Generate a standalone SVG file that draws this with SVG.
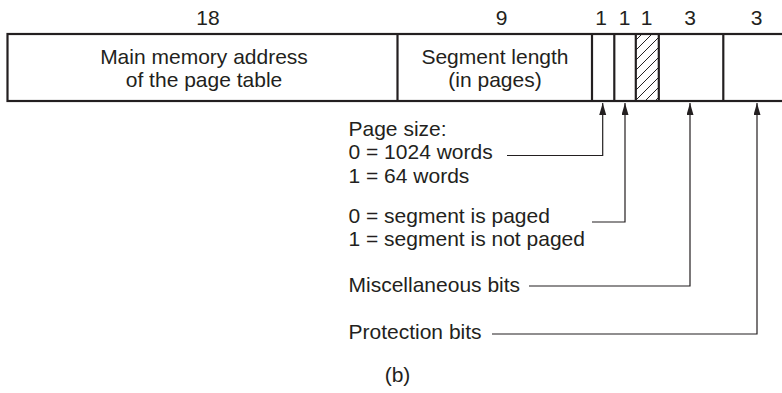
<svg xmlns="http://www.w3.org/2000/svg" width="782" height="393" viewBox="0 0 782 393">
  <defs>
    <style>
      text { font-family: "Liberation Sans", Arial, sans-serif; font-size: 21px; fill: #231f20; }
      .mid { text-anchor: middle; }
      .box { fill: #ffffff; stroke: #231f20; stroke-width: 2.2; }
      .div { stroke: #231f20; stroke-width: 2.2; fill: none; }
      .hatch { stroke: #231f20; stroke-width: 1; }
      .conn { fill: none; stroke: #231f20; stroke-width: 1.2; marker-end: url(#arrow); }
    </style>
    <marker id="arrow" markerUnits="userSpaceOnUse" markerWidth="12" markerHeight="8" refX="12" refY="3.5" orient="auto">
      <path d="M0,0 L12,3.5 L0,7 Z" fill="#231f20"/>
    </marker>
    <clipPath id="hclip">
      <rect x="636" y="34" width="23" height="67"/>
    </clipPath>
  </defs>

  <g id="widths">
    <text class="mid" x="208" y="25">18</text>
    <text class="mid" x="501.7" y="25">9</text>
    <text class="mid" x="601" y="25">1</text>
    <text class="mid" x="624.5" y="25">1</text>
    <text class="mid" x="646.7" y="25">1</text>
    <text class="mid" x="690" y="25">3</text>
    <text class="mid" x="756.7" y="25">3</text>
  </g>

  <g id="descriptor">
    <rect class="box" x="7.5" y="34" width="800" height="67"/>
  </g>

  <g id="field-address">
    <text class="mid" x="204" y="64">Main memory address</text>
    <text class="mid" x="204" y="87">of the page table</text>
  </g>

  <g id="field-length">
    <line class="div" x1="397.5" y1="34" x2="397.5" y2="101"/>
    <text class="mid" x="495" y="63.5">Segment length</text>
    <text class="mid" x="495" y="87">(in pages)</text>
  </g>

  <g id="field-pagesize">
    <line class="div" x1="592" y1="34" x2="592" y2="101"/>
  </g>

  <g id="field-paged">
    <line class="div" x1="614.3" y1="34" x2="614.3" y2="101"/>
  </g>

  <g id="field-unused">
    <g clip-path="url(#hclip)">
      <line class="hatch" x1="636" y1="40" x2="659" y2="17"/>
      <line class="hatch" x1="636" y1="50" x2="659" y2="27"/>
      <line class="hatch" x1="636" y1="60" x2="659" y2="37"/>
      <line class="hatch" x1="636" y1="70" x2="659" y2="47"/>
      <line class="hatch" x1="636" y1="80" x2="659" y2="57"/>
      <line class="hatch" x1="636" y1="90" x2="659" y2="67"/>
      <line class="hatch" x1="636" y1="100" x2="659" y2="77"/>
      <line class="hatch" x1="636" y1="110" x2="659" y2="87"/>
      <line class="hatch" x1="636" y1="120" x2="659" y2="97"/>
    </g>
    <line class="div" x1="635.8" y1="34" x2="635.8" y2="101"/>
    <line class="div" x1="658.8" y1="34" x2="658.8" y2="101"/>
  </g>

  <g id="field-misc">
    <line class="div" x1="723.3" y1="34" x2="723.3" y2="101"/>
  </g>

  <g id="label-pagesize">
    <text x="348.5" y="136">Page size:</text>
    <text x="348.5" y="159">0 = 1024 words</text>
    <text x="348.5" y="182.5">1 = 64 words</text>
  </g>

  <g id="label-paged">
    <text x="348.5" y="223">0 = segment is paged</text>
    <text x="348.5" y="246">1 = segment is not paged</text>
  </g>

  <g id="label-misc">
    <text x="348.5" y="292">Miscellaneous bits</text>
  </g>

  <g id="label-protection">
    <text x="348.5" y="339">Protection bits</text>
  </g>

  <g id="caption">
    <text class="mid" x="397.5" y="382">(b)</text>
  </g>

  <g id="connectors">
    <path class="conn" d="M507,155.5 H602.7 V103"/>
    <path class="conn" d="M592,222 H625 V103"/>
    <path class="conn" d="M529,286 H690 V103"/>
    <path class="conn" d="M492,334 H757 V103"/>
  </g>
</svg>
